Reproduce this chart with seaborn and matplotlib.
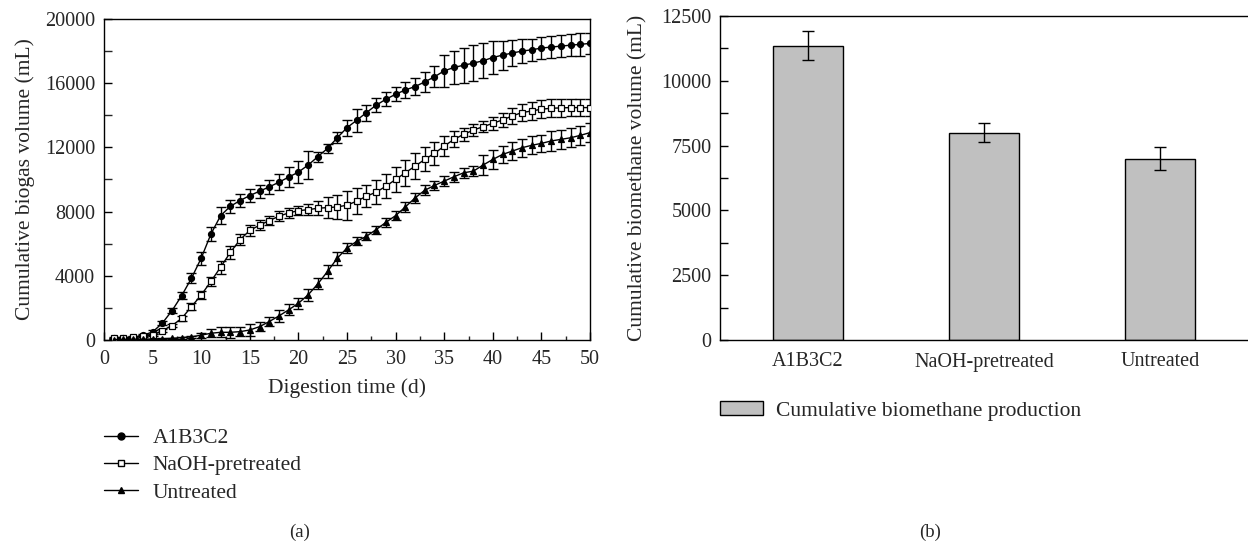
import matplotlib
matplotlib.use("Agg")
import matplotlib.pyplot as plt
import matplotlib.ticker as mticker
from matplotlib.lines import Line2D
from matplotlib.patches import Patch
import numpy as np
import pandas as pd
import seaborn as sns

# ---- data ----
days = list(range(1, 51))

a1b3c2 = [100, 100, 150, 300, 500, 1050, 1830, 2770, 3850, 5100,
          6600, 7750, 8330, 8690, 9000, 9270, 9540, 9830, 10150, 10460,
          10900, 11420, 11940, 12600, 13230, 13690, 14170, 14630, 15000, 15310,
          15580, 15790, 16080, 16400, 16770, 16980, 17120, 17250, 17400, 17600,
          17750, 17880, 18000, 18080, 18190, 18250, 18310, 18370, 18420, 18480]
a1b3c2_err = [50, 50, 50, 80, 100, 120, 150, 200, 300, 400,
              450, 550, 400, 380, 380, 400, 420, 500, 600, 700,
              900, 300, 300, 350, 500, 700, 500, 450, 450, 450,
              500, 550, 600, 650, 1000, 1050, 1100, 1100, 1100, 1000,
              900, 800, 750, 700, 700, 700, 700, 700, 700, 650]

naoh = [150, 150, 170, 250, 300, 580, 900, 1350, 2080, 2800,
        3650, 4540, 5460, 6250, 6830, 7150, 7440, 7710, 7920, 8060,
        8120, 8210, 8250, 8290, 8400, 8650, 8960, 9210, 9580, 10000,
        10420, 10830, 11250, 11630, 12080, 12500, 12810, 13080, 13290, 13500,
        13710, 13960, 14170, 14270, 14380, 14440, 14460, 14480, 14480, 14480]
naoh_err = [50, 50, 50, 50, 80, 100, 120, 150, 200, 250,
            300, 400, 400, 350, 350, 300, 300, 300, 300, 300,
            350, 450, 650, 750, 900, 800, 700, 750, 750, 800,
            800, 800, 750, 700, 600, 500, 400, 350, 350, 400,
            450, 500, 550, 550, 550, 550, 550, 550, 550, 550]

untreated = [30, 40, 50, 50, 60, 80, 100, 150, 200, 300,
             420, 480, 480, 520, 625, 830, 1150, 1500, 1880, 2290,
             2810, 3500, 4270, 5100, 5730, 6150, 6460, 6880, 7330, 7750,
             8290, 8850, 9330, 9630, 9900, 10170, 10420, 10520, 10900, 11250,
             11560, 11770, 11980, 12130, 12250, 12400, 12500, 12600, 12750, 12920]
untreated_err = [30, 30, 30, 30, 30, 40, 50, 60, 80, 150,
                 250, 300, 350, 300, 350, 300, 300, 350, 350, 350,
                 350, 350, 400, 400, 300, 250, 250, 250, 300, 300,
                 300, 300, 300, 300, 300, 300, 300, 300, 600, 600,
                 550, 550, 550, 550, 550, 600, 600, 600, 600, 600]

groups = ["A1B3C2", "NaOH-pretreated", "Untreated"]
methane = [11350, 8000, 7000]
methane_err = [560, 370, 450]

# ---- style ----
sns.set_theme(style="ticks")
plt.rcParams["font.family"] = ["Liberation Serif", "DejaVu Serif"]
plt.rcParams["font.size"] = 15
plt.rcParams["axes.labelsize"] = 15.5
plt.rcParams["xtick.labelsize"] = 14.5
plt.rcParams["ytick.labelsize"] = 14.5
plt.rcParams["axes.linewidth"] = 1.0
plt.rcParams["xtick.direction"] = "in"
plt.rcParams["ytick.direction"] = "in"

W, H = 1248, 546
fig = plt.figure(figsize=(W / 100, H / 100), dpi=100)
ax1 = fig.add_axes([104 / W, (H - 340) / H, 486 / W, 321 / H])
ax2 = fig.add_axes([720 / W, (H - 340) / H, 528 / W, 324 / H])

# ---- (a) cumulative biogas ----
series = [
    (a1b3c2, a1b3c2_err, "o", "black"),
    (naoh, naoh_err, "s", "white"),
    (untreated, untreated_err, "^", "black"),
]
handles = []
for (vals, err, mk, fc), name in zip(series, groups):
    ax1.errorbar(days, vals, yerr=err, fmt="none", ecolor="black",
                 elinewidth=1.0, capsize=3.5, capthick=1.0, zorder=2)
    sns.lineplot(x=days, y=vals, ax=ax1, color="black", linewidth=1.0,
                 marker=mk, markersize=4.3, markerfacecolor=fc,
                 markeredgecolor="black", markeredgewidth=0.9, zorder=3)
    handles.append(Line2D([], [], color="black", linewidth=1.0, marker=mk,
                          markersize=5, markerfacecolor=fc,
                          markeredgecolor="black", label=name))

ax1.set_xlim(0, 50)
ax1.set_ylim(0, 20000)
ax1.xaxis.set_major_locator(mticker.MultipleLocator(5))
ax1.xaxis.set_minor_locator(mticker.MultipleLocator(2.5))
ax1.yaxis.set_major_locator(mticker.MultipleLocator(4000))
ax1.yaxis.set_minor_locator(mticker.MultipleLocator(2000))
ax1.tick_params(axis="both", which="major", length=6, width=1, color="black")
ax1.tick_params(axis="x", which="major", pad=7)
ax1.tick_params(axis="y", which="major", pad=6.5)
ax1.tick_params(axis="y", which="minor", length=6, width=1)
ax1.tick_params(axis="x", which="minor", length=3, width=1)
ax1.set_xlabel("Digestion time (d)", labelpad=7)
ax1.set_ylabel("Cumulative biogas volume (mL)", labelpad=7)
for s in ax1.spines.values():
    s.set_color("black")

fig.legend(handles=handles, loc="upper left", bbox_to_anchor=(104 / W, 1 - 428 / H),
           frameon=False, handlelength=1.6, handletextpad=0.65, labelspacing=0.34,
           borderaxespad=0, borderpad=0, fontsize=15.5)
fig.text(300 / W, 1 - 532 / H, "(a)", ha="center", va="center", fontsize=13.5)

# ---- (b) cumulative biomethane ----
bar_df = pd.DataFrame({"group": groups, "volume": methane})
sns.barplot(data=bar_df, x="group", y="volume", ax=ax2, color="#c0c0c0",
            saturation=1, width=0.4, edgecolor="black", linewidth=1.0)
ax2.errorbar(range(len(groups)), methane, yerr=methane_err, fmt="none",
             ecolor="black", elinewidth=1.0, capsize=4, capthick=1.0)
ax2.set_xlim(-0.5, 2.5)
ax2.set_ylim(0, 12500)
ax2.yaxis.set_major_locator(mticker.MultipleLocator(2500))
ax2.yaxis.set_minor_locator(mticker.MultipleLocator(1250))
ax2.tick_params(axis="y", which="both", length=6, width=1, color="black", pad=6)
ax2.tick_params(axis="x", length=0, pad=9)
ax2.set_xlabel("")
ax2.set_ylabel("Cumulative biomethane volume (mL)", labelpad=10)
ax2.spines["right"].set_visible(False)
for s in ax2.spines.values():
    s.set_color("black")

fig.legend(handles=[Patch(facecolor="#c0c0c0", edgecolor="black",
                          label="Cumulative biomethane production")],
           loc="center left", bbox_to_anchor=(720 / W, 1 - 411 / H),
           frameon=False, handlelength=2.0, handleheight=0.6, handletextpad=0.6,
           borderaxespad=0, borderpad=0, fontsize=15.5)
fig.text(930 / W, 1 - 532 / H, "(b)", ha="center", va="center", fontsize=13.5)

fig.savefig("out.png", dpi=100)
